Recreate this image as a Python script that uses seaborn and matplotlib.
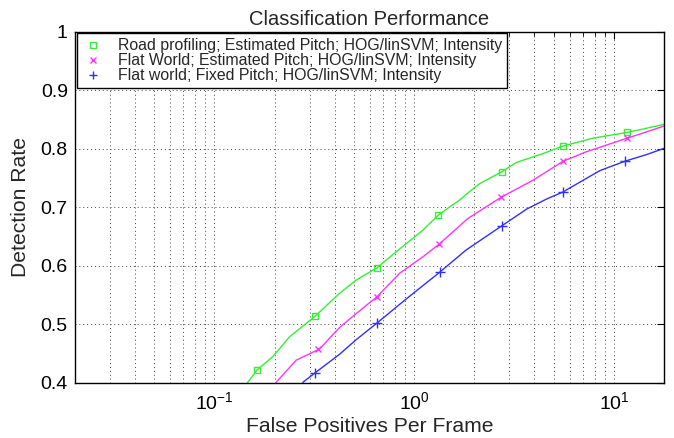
import numpy as np
import pandas as pd
import seaborn as sns
import matplotlib
matplotlib.use("Agg")
import matplotlib.pyplot as plt
from matplotlib.lines import Line2D
from matplotlib.ticker import LogLocator, FixedLocator

# ---- data ----
labels = ["Road profiling; Estimated Pitch; HOG/linSVM; Intensity",
          "Flat World; Estimated Pitch; HOG/linSVM; Intensity",
          "Flat world; Fixed Pitch; HOG/linSVM; Intensity"]
colors = ["#33f033", "#ff33ff", "#3030ff"]
markers = ["s", "x", "+"]

green_x = [0.146, 0.164, 0.196, 0.238, 0.320, 0.423, 0.513, 0.652, 0.845, 1.107, 1.315,
           1.51, 1.69, 1.86, 2.13, 2.746, 3.25, 4.42, 5.546, 7.87, 11.67, 14.6, 17.8]
green_y = [0.400, 0.4227, 0.4449, 0.479, 0.5143, 0.553, 0.5758, 0.5968, 0.6287, 0.661, 0.686,
           0.7009, 0.7123, 0.7245, 0.7404, 0.7606, 0.7765, 0.7917, 0.8044, 0.818, 0.8278, 0.835, 0.8415]
green_mx = [0.164, 0.320, 0.652, 1.315, 2.746, 5.546, 11.67]
green_my = [0.4227, 0.5143, 0.5968, 0.686, 0.7606, 0.8044, 0.8278]

magenta_x = [0.2036, 0.2567, 0.336, 0.423, 0.513, 0.652, 0.845, 1.107, 1.33, 1.86, 2.72, 3.95,
             5.55, 7.27, 11.67, 14.6, 17.8]
magenta_y = [0.401, 0.439, 0.458, 0.4946, 0.5186, 0.5473, 0.5872, 0.6155, 0.6367, 0.681, 0.7169, 0.7464,
             0.7783, 0.7947, 0.818, 0.8288, 0.8386]
magenta_mx = [0.330, 0.652, 1.33, 2.72, 5.55, 11.67]
magenta_my = [0.458, 0.5473, 0.6367, 0.7169, 0.7783, 0.818]

blue_x = [0.277, 0.320, 0.423, 0.513, 0.652, 0.914, 1.34, 1.82, 2.75, 3.66, 4.6, 5.55, 8.5,
          11.4, 14.6, 17.8]
blue_y = [0.401, 0.4176, 0.449, 0.474, 0.5024, 0.5436, 0.5889, 0.627, 0.6684, 0.6969, 0.714, 0.726, 0.7625,
          0.7788, 0.790, 0.8005]
blue_mx = [0.320, 0.652, 1.34, 2.75, 5.55, 11.4]
blue_my = [0.4176, 0.5024, 0.5889, 0.6684, 0.726, 0.7788]

x_ticks = [0.1, 1, 10]
y_ticks = [0.4, 0.5, 0.6, 0.7, 0.8, 0.9, 1.0]
y_ticklabels = ["0.4", "0.5", "0.6", "0.7", "0.8", "0.9", "1"]

# ---- style ----
sns.set_style("white")
plt.rcParams['font.family'] = ['Liberation Sans', 'DejaVu Sans']
plt.rcParams['mathtext.fontset'] = 'custom'
plt.rcParams['mathtext.rm'] = 'Liberation Sans'
plt.rcParams['mathtext.it'] = 'Liberation Sans'
plt.rcParams['mathtext.default'] = 'regular'

fig = plt.figure(figsize=(6.74, 4.38), dpi=100)
ax = fig.add_axes([0.111, 0.1256, 0.874, 0.8024])

series = [(green_x, green_y, green_mx, green_my),
          (magenta_x, magenta_y, magenta_mx, magenta_my),
          (blue_x, blue_y, blue_mx, blue_my)]
msizes = {"s": 5, "x": 5, "+": 7}

for (lx, ly, mx, my), c, m, lab in zip(series, colors, markers, labels):
    df = pd.DataFrame({"x": lx, "y": ly})
    sns.lineplot(data=df, x="x", y="y", ax=ax, color=c, lw=1.0, legend=False)
    ax.plot(mx, my, linestyle="none", marker=m, color=c, markersize=msizes[m],
            markerfacecolor="none", markeredgewidth=1.0)

ax.set_xscale("log")
ax.set_xlim(0.02, 17.8)
ax.set_ylim(0.4, 1.0)
ax.set_yticks(y_ticks)
ax.set_yticklabels(y_ticklabels)
ax.xaxis.set_major_locator(FixedLocator(x_ticks))
ax.xaxis.set_minor_locator(LogLocator(base=10, subs=np.arange(2, 10), numticks=20))

ax.grid(True, which="major", axis="both", linestyle=(0, (1, 3)), color="#444444", lw=0.7)
ax.grid(True, which="minor", axis="x", linestyle=(0, (1, 3)), color="#444444", lw=0.7)

ax.tick_params(which="both", direction="in", top=True, right=True, labelsize=14, colors="black")
ax.tick_params(which="major", length=5, width=0.8)
ax.tick_params(which="minor", length=3, width=0.6)
ax.tick_params(axis="x", pad=6)
ax.tick_params(axis="y", pad=5)
for sp in ax.spines.values():
    sp.set_color("black")
    sp.set_linewidth(1.0)

ax.set_xlabel("False Positives Per Frame", fontsize=15.2, labelpad=3)
ax.set_ylabel("Detection Rate", fontsize=15.2, labelpad=8)
ax.set_title("Classification Performance", fontsize=14.5, pad=5)

handles = [Line2D([], [], linestyle="none", marker=m, color=c, markerfacecolor="none",
                  markersize={"s": 4.5, "x": 4, "+": 6}[m], markeredgewidth=1.0)
           for c, m in zip(colors, markers)]
leg = ax.legend(handles, labels, loc="upper left", bbox_to_anchor=(0.003, 0.995),
                fontsize=11.4, frameon=True, fancybox=False, edgecolor="black",
                handlelength=1.5, handletextpad=0.8, labelspacing=0.0, borderpad=0.3,
                borderaxespad=0.0)
leg.get_frame().set_linewidth(1.0)
leg.get_frame().set_alpha(1.0)

fig.savefig("out.png", dpi=100)
